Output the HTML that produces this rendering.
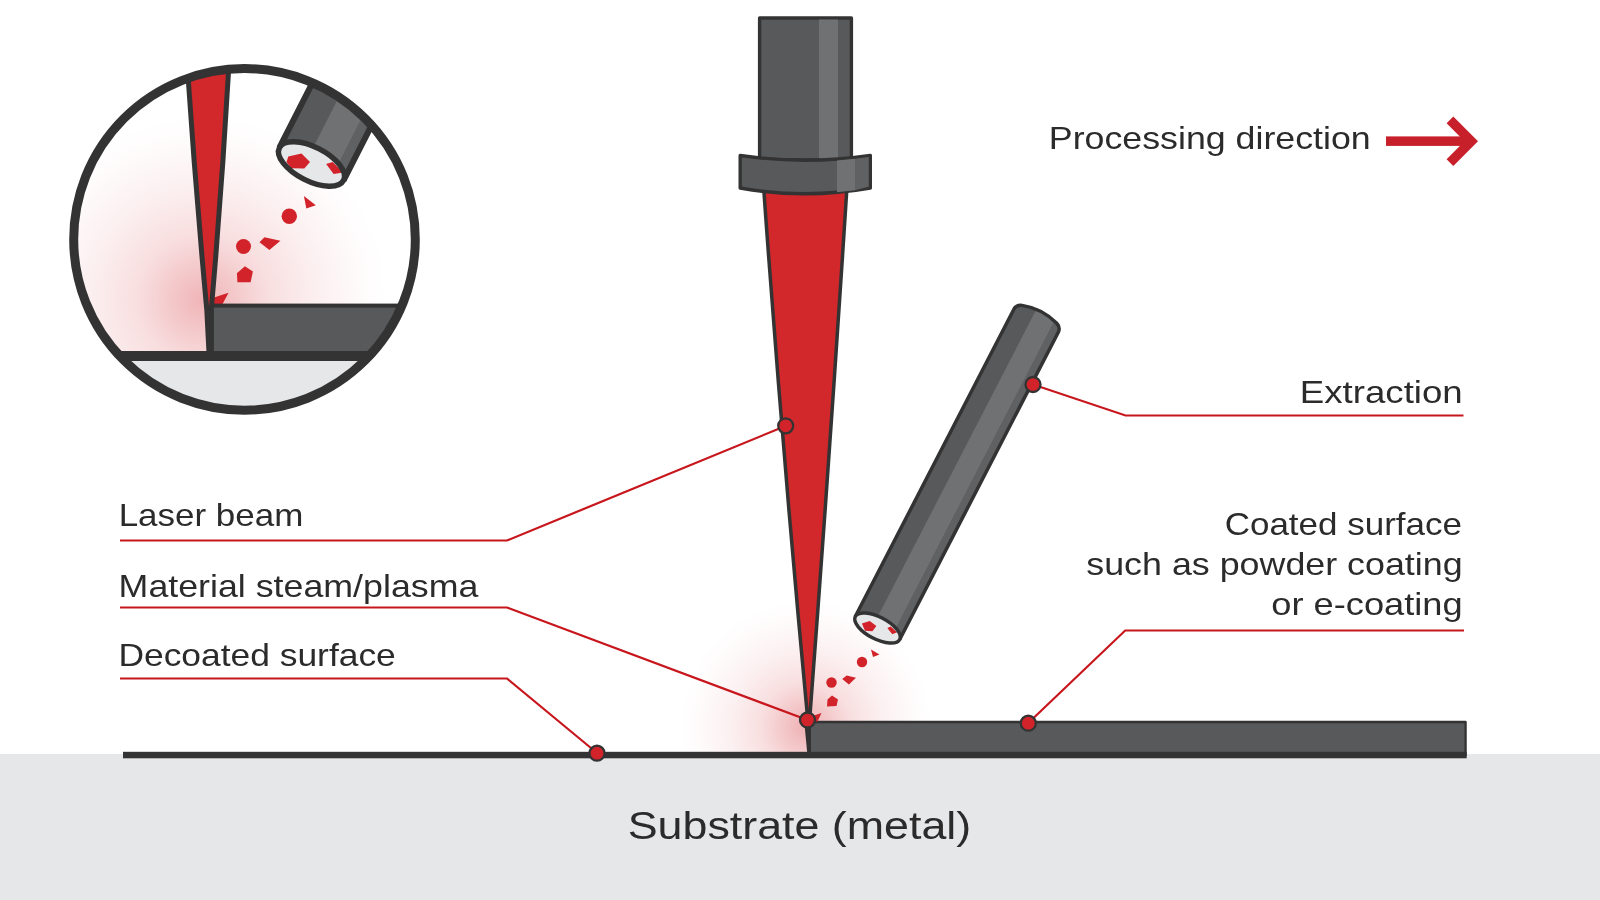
<!DOCTYPE html>
<html><head><meta charset="utf-8">
<style>
html,body{margin:0;padding:0;background:#fff;}
body{width:1600px;height:900px;overflow:hidden;font-family:"Liberation Sans",sans-serif;}
svg{display:block;will-change:transform;}
text{font-family:"Liberation Sans",sans-serif;fill:#2b2b2b;}
</style></head><body>
<svg width="1600" height="900" viewBox="0 0 1600 900">
<defs>
  <radialGradient id="glow" cx="0.5" cy="0.5" r="0.5">
    <stop offset="0" stop-color="#d2232a" stop-opacity="0.36"/>
    <stop offset="0.15" stop-color="#d2232a" stop-opacity="0.27"/>
    <stop offset="0.35" stop-color="#d2232a" stop-opacity="0.15"/>
    <stop offset="0.6" stop-color="#d2232a" stop-opacity="0.07"/>
    <stop offset="0.85" stop-color="#d2232a" stop-opacity="0.02"/>
    <stop offset="1" stop-color="#d2232a" stop-opacity="0"/>
  </radialGradient>
  <radialGradient id="glow2" cx="0.5" cy="0.5" r="0.5">
    <stop offset="0" stop-color="#d2232a" stop-opacity="0.34"/>
    <stop offset="0.15" stop-color="#d2232a" stop-opacity="0.26"/>
    <stop offset="0.35" stop-color="#d2232a" stop-opacity="0.15"/>
    <stop offset="0.6" stop-color="#d2232a" stop-opacity="0.075"/>
    <stop offset="0.85" stop-color="#d2232a" stop-opacity="0.02"/>
    <stop offset="1" stop-color="#d2232a" stop-opacity="0"/>
  </radialGradient>
  <clipPath id="aboveGround"><rect x="0" y="0" width="1600" height="754"/></clipPath>
  <clipPath id="insetClip"><circle cx="244.5" cy="239.5" r="171"/></clipPath>
</defs>

<!-- substrate -->
<rect x="0" y="754" width="1600" height="146" fill="#e6e7e9"/>

<!-- glow main -->
<g clip-path="url(#aboveGround)">
  <ellipse cx="806" cy="727" rx="126" ry="126" fill="url(#glow)"/>
</g>

<!-- ground line -->

<!-- coating -->
<path d="M809.500 756 V722 H1465.600 V756" fill="#58595b" stroke="#333" stroke-width="2.300" stroke-linejoin="round"/>
<rect x="123" y="751.800" width="1343.700" height="6.500" fill="#333"/>

<!-- laser beam -->
<path d="M763.500 186 Q782.600 453 807.800 720 L809.600 720 Q830 453 847.050 186 Z" fill="#d2272b" stroke="#333" stroke-width="3.500" stroke-linejoin="round"/>
<path d="M804.300 722 L811 722 L811 754 L807.300 754 Z" fill="#333"/>

<!-- nozzle -->
<g id="nozzle">
  <rect x="759.600" y="18" width="91.800" height="142" fill="#58595b" stroke="#333" stroke-width="3.400" stroke-linejoin="round"/>
  <rect x="819" y="19.5" width="19" height="139" fill="#707173"/>
  <path d="M740.200 155.500 Q805 165 870.300 155.500 V188 Q805 199.500 740.200 188 Z" fill="#58595b" stroke="#333" stroke-width="3.400" stroke-linejoin="round"/>
  <path d="M837 160.600 L855 158.700 V190.300 L837 192.300 Z" fill="#707173"/>
  <path d="M855 158.700 L868.600 157 V186.800 L855 190.300 Z" fill="#606163"/>
</g>

<!-- extraction tube -->
<g transform="translate(877.500,628) rotate(27.300)">
  <path d="M-25 0 V-345.500 Q-25 -351 -19.500 -353 Q0 -359.500 19.500 -353 Q25 -351 25 -345.500 V0 Z" fill="#58595b"/>
  <path d="M-5 0 V-357.500 L16.500 -354.500 V0 Z" fill="#707173"/>
  <path d="M16.500 0 V-354.500 L25 -348.500 V0 Z" fill="#606163"/>
  <path d="M-25 0 V-345.500 Q-25 -351 -19.500 -353 Q0 -359.500 19.500 -353 Q25 -351 25 -345.500 V0" fill="none" stroke="#333" stroke-width="3.500" stroke-linejoin="round"/>
  <ellipse cx="0" cy="0" rx="25" ry="11" fill="#e6e7e8"/>
  <g transform="rotate(-27.300)" fill="#d2232a">
    <path d="M-15.600 -4.600 L-7.800 -6.900 L-1.100 -1.900 L-5.100 3.200 L-12.500 2.700 Z"/>
    <path d="M9.800 0.100 L13.200 -1.500 L19.600 4.200 L14.800 6.300 Z"/>
  </g>
  <ellipse cx="0" cy="0" rx="25" ry="11" fill="none" stroke="#333" stroke-width="3.500"/>
</g>

<!-- main particles -->
<g fill="#d2232a">
  <path d="M871 649.500 L879.500 654.500 L873 657 Z"/>
  <circle cx="862" cy="662" r="5.200"/>
  <path d="M842.200 678.900 L846.700 675.600 L856 677.800 L848.900 684.400 Z"/>
  <circle cx="831.500" cy="682.500" r="5.200"/>
  <path d="M832 695.500 L838 699.500 L836.500 706 L827 706.500 L827.500 699.500 Z"/>
  <path d="M811 716.500 L821.500 713 L817.500 721.500 L811 721.500 Z"/>
</g>

<!-- leader lines -->
<g fill="none" stroke="#c8161d" stroke-width="2.200">
  <path d="M120 540.500 H507 L785.500 426"/>
  <path d="M120 607.500 H507 L807.500 720"/>
  <path d="M120 678.500 H507 L597 753"/>
  <path d="M1463.500 415.500 H1125.500 L1033 384.500"/>
  <path d="M1464 630.500 H1125.200 L1028.300 723"/>
</g>
<g fill="#d2232a" stroke="#333" stroke-width="2.300">
  <circle cx="785.700" cy="425.800" r="7.500"/>
  <circle cx="807.500" cy="720" r="7.500"/>
  <circle cx="597" cy="753.200" r="7.500"/>
  <circle cx="1033" cy="384.500" r="7.500"/>
  <circle cx="1028.300" cy="723.200" r="7.500"/>
</g>

<!-- labels -->
<g font-size="32">
  <text x="118.66" y="526" textLength="184.62" lengthAdjust="spacingAndGlyphs">Laser beam</text>
  <text x="118.61" y="597" textLength="359.72" lengthAdjust="spacingAndGlyphs">Material steam/plasma</text>
  <text x="118.40" y="666" textLength="277.39" lengthAdjust="spacingAndGlyphs">Decoated surface</text>
  <text x="1299.84" y="402.500" textLength="162.88" lengthAdjust="spacingAndGlyphs">Extraction</text>
  <text x="1224.68" y="534.500" textLength="237.33" lengthAdjust="spacingAndGlyphs">Coated surface</text>
  <text x="1086.27" y="574.500" textLength="376.36" lengthAdjust="spacingAndGlyphs">such as powder coating</text>
  <text x="1271.28" y="614.500" textLength="191.38" lengthAdjust="spacingAndGlyphs">or e-coating</text>
  <text x="1048.88" y="149" textLength="321.81" lengthAdjust="spacingAndGlyphs">Processing direction</text>
</g>
<text x="627.74" y="838.500" font-size="38" textLength="343.46" lengthAdjust="spacingAndGlyphs">Substrate (metal)</text>


<!-- inset -->
<g id="inset">
  <circle cx="244.5" cy="239.500" r="171" fill="#fff"/>
  <g clip-path="url(#insetClip)">
    <ellipse cx="203" cy="300" rx="185" ry="185" fill="url(#glow2)"/>
    <path d="M211 298.500 L228.500 292.800 L221.500 306 L211 306 Z" fill="#d2232a"/>
    <rect x="60" y="356" width="380" height="70" fill="#e6e7e9"/>
    <rect x="211.800" y="305.600" width="222" height="50" fill="#58595b" stroke="#333" stroke-width="4"/>
    <rect x="60" y="351" width="380" height="10" fill="#333"/>
    <path d="M186.900 60 Q195.100 183.350 206.500 306.700 L209 312 L211.500 306.700 Q222.350 183.350 229.200 60 Z" fill="#d2272b" stroke="#333" stroke-width="5" stroke-linejoin="round"/>
    <path d="M203.900 302 L209 310 L213.500 304 L213.500 353 L206.500 353 Z" fill="#333"/>
    <!-- tube -->
    <g transform="translate(311.500,164) rotate(27)">
      <path d="M-36 0 V-120 H36 V0 Z" fill="#58595b"/>
      <rect x="-6" y="-120" width="30" height="120" fill="#707173"/>
      <rect x="24" y="-120" width="11.300" height="120" fill="#606163"/>
      <path d="M-36 0 V-120 M36 -120 V0" fill="none" stroke="#333" stroke-width="6" stroke-linejoin="round"/>
      <ellipse cx="0" cy="0" rx="36" ry="17" fill="#e6e7e8"/>
      <g transform="rotate(-27)" fill="#d2232a">
        <path d="M-23.200 -7.600 L-10 -10.500 L-1.500 -2 L-7.200 4.600 L-20.400 4.300 L-25 -2 Z"/>
        <path d="M14.600 -0.100 L21.200 -2 L31.700 8.500 L22.100 9.900 Z"/>
      </g>
      <ellipse cx="0" cy="0" rx="36" ry="17" fill="none" stroke="#333" stroke-width="5.500"/>
    </g>
    <!-- particles -->
    <g fill="#d2232a">
      <path d="M303.900 196.100 L315.800 205.200 L306.300 208.400 Z"/>
      <circle cx="289.300" cy="216.300" r="7.700"/>
      <path d="M259.500 242.200 L264.400 237.200 L280.400 240.800 L269.400 249.900 Z"/>
      <circle cx="243.500" cy="246.500" r="7.500"/>
      <path d="M244.900 266.200 L252.900 271.600 L250.600 282.200 L237.400 282.200 L236.900 273.300 Z"/>
      
    </g>
  </g>
  <circle cx="244.500" cy="239.400" r="170.800" fill="none" stroke="#333" stroke-width="9"/>
</g>

<!-- arrow -->
<g fill="#c8202a">
  <rect x="1386" y="136.400" width="84" height="9.500"/>
  <path d="M1478 141.250 L1453.300 116.600 L1446.600 123.300 L1464.550 141.250 L1446.600 159.200 L1453.300 165.900 Z"/>
</g>
</svg>
</body></html>
